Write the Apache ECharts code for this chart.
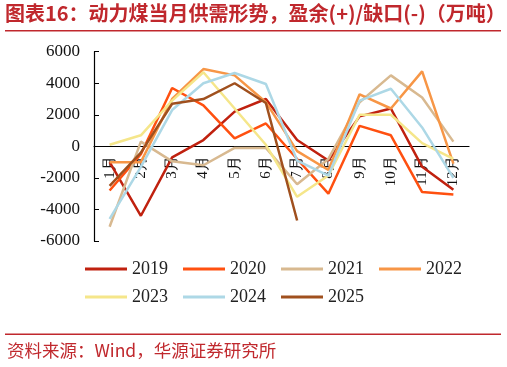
<!DOCTYPE html>
<html><head><meta charset="utf-8">
<script src="https://cdn.jsdelivr.net/npm/echarts@6/dist/echarts.min.js"></script>
<style>html,body{margin:0;padding:0;background:#fff}#c{width:507px;height:367px}</style>
</head><body><div id="c"></div>
<script>
const months = ['1月','2月','3月','4月','5月','6月','7月','8月','9月','10月','11月','12月'];
const yTicks = [-6000,-4000,-2000,0,2000,4000,6000];
const s2019 = [-1000, -4400, -700, 400, 2200, 3000, 400, -900, 1900, 2400, -1300, -2750];
const s2020 = [-2800, -500, 3700, 2600, 500, 1450, -800, -3000, 1300, 700, -2900, -3050];
const s2021 = [-5100, 300, -950, -1200, -100, -100, -2400, -800, 2800, 4500, 3100, 300];
const s2022 = [-1000, -1000, 3000, 4900, 4500, 2800, -300, -1500, 3300, 2400, 4750, -1100];
const s2023 = [100, 700, 2900, 4700, 2400, 100, -3200, -1850, 2000, 2000, 200, -800];
const s2024 = [-4600, -1300, 2300, 4000, 4650, 3950, -900, -1850, 2900, 3650, 1200, -2000];
const s2025 = [-2500, -400, 2700, 3000, 4000, 2750, -4700];
const seriesNames = ['2019','2020','2021','2022','2023','2024','2025'];
const seriesData = [s2019, s2020, s2021, s2022, s2023, s2024, s2025];
const colors = ['#C0210F','#FF5010','#D8B990','#F79646','#F5E68A','#ADD8E6','#A0501E'];

const gridTop = 51.7, gridBottom = 126, H = 367;
const gridH = H - gridTop - gridBottom;
const zeroOffset = -gridH * (0 - yTicks[0]) / (yTicks[yTicks.length-1] - yTicks[0]);

const chart = echarts.init(document.getElementById('c'));
const serif = '"Liberation Serif","Times New Roman",serif';
const legendBase = {
  left: 80, itemWidth: 42, itemHeight: 3, itemGap: 15, icon: 'rect', orient: 'horizontal',
  textStyle: {fontFamily: serif, fontSize: 18, color: '#222'}
};
chart.setOption({
  animation: false,
  grid: {left: 94, right: 38, top: gridTop, bottom: gridBottom, containLabel: false},
  legend: [
    Object.assign({}, legendBase, {top: 255, data: seriesNames.slice(0, 4)}),
    Object.assign({}, legendBase, {top: 283, data: seriesNames.slice(4)})
  ],
  xAxis: {
    type: 'category', data: months, boundaryGap: true,
    offset: zeroOffset,
    axisLine: {onZero: false, lineStyle: {color: '#000', width: 1.2}},
    axisTick: {inside: true, length: 5, lineStyle: {color: '#000'}},
    axisLabel: {rotate: 90, margin: 10, fontFamily: serif, fontSize: 15, color: '#111', interval: 0},
    splitLine: {show: false}
  },
  yAxis: {
    type: 'value', min: yTicks[0], max: yTicks[yTicks.length-1], interval: 2000,
    axisLine: {show: true, lineStyle: {color: '#000', width: 1.2}},
    axisTick: {show: true, inside: true, length: 5, lineStyle: {color: '#000'}},
    axisLabel: {margin: 14, fontFamily: serif, fontSize: 17, color: '#111', formatter: v => String(v)},
    splitLine: {show: false}
  },
  series: seriesNames.map((n, i) => ({
    name: n, type: 'line', data: seriesData[i], symbol: 'none',
    lineStyle: {width: 2.5, color: colors[i]}, itemStyle: {color: colors[i]}
  })),
  graphic: [
    {type: 'text', left: 5, top: 3, style: {text: '图表16：动力煤当月供需形势，盈余(+)/缺口(-)（万吨）', fill: '#C0282D', font: 'bold 20px "Noto Sans CJK SC"'}},
    {type: 'rect', shape: {x: 5, y: 30, width: 496, height: 1.5}, style: {fill: '#C0282D'}},
    {type: 'rect', shape: {x: 5, y: 333.5, width: 496, height: 1.5}, style: {fill: '#C0282D'}},
    {type: 'text', left: 7, top: 342, style: {text: '资料来源：Wind，华源证券研究所', fill: '#C0282D', font: '17.5px "Noto Sans CJK SC"'}}
  ]
});
</script></body></html>
